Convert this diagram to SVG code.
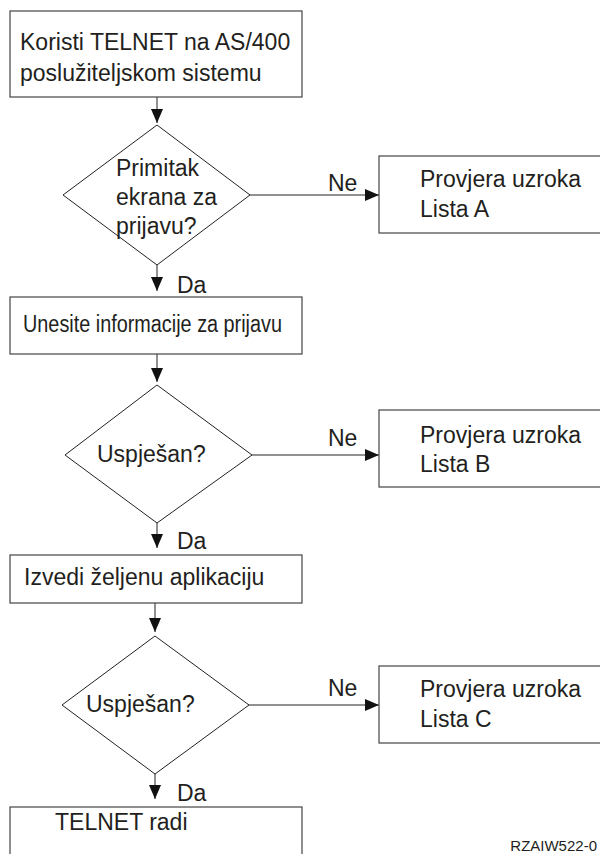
<svg xmlns="http://www.w3.org/2000/svg" width="600" height="854" viewBox="0 0 600 854">
<defs>
<style>
.box{fill:#fff;stroke:#444;stroke-width:1.2}
.dia{fill:#fff;stroke:#222;stroke-width:1}
.ln{fill:none;stroke:#222;stroke-width:1}
text{font-family:"Liberation Sans",Arial,sans-serif;font-size:23px;fill:#231f20}
.id{font-size:15px}
</style>
<marker id="ah" markerUnits="userSpaceOnUse" markerWidth="14" markerHeight="12" refX="14" refY="6" orient="auto">
<path d="M0,0 L14,6 L0,12 Z" fill="#111"/>
</marker>
</defs>
<g id="connectors">
<line class="ln" x1="157" y1="97" x2="157" y2="123" marker-end="url(#ah)"/>
<line class="ln" x1="250" y1="195" x2="379" y2="195" marker-end="url(#ah)"/>
<text x="328" y="191">Ne</text>
<line class="ln" x1="157" y1="265" x2="157" y2="291" marker-end="url(#ah)"/>
<text x="177" y="293">Da</text>
<line class="ln" x1="157" y1="354" x2="157" y2="382" marker-end="url(#ah)"/>
<line class="ln" x1="252" y1="455" x2="379" y2="455" marker-end="url(#ah)"/>
<text x="328" y="446">Ne</text>
<line class="ln" x1="157" y1="523" x2="157" y2="548" marker-end="url(#ah)"/>
<text x="177" y="549">Da</text>
<line class="ln" x1="155" y1="603" x2="155" y2="632" marker-end="url(#ah)"/>
<line class="ln" x1="249" y1="705" x2="379" y2="705" marker-end="url(#ah)"/>
<text x="328" y="696">Ne</text>
<line class="ln" x1="155" y1="774" x2="155" y2="799" marker-end="url(#ah)"/>
<text x="177" y="801">Da</text>
</g>
<g id="n1">
<rect class="box" x="10" y="11" width="292" height="86"/>
<text x="20" y="50">Koristi TELNET na AS/400</text>
<text x="20" y="81">poslužiteljskom sistemu</text>
</g>
<g id="d1">
<polygon class="dia" points="157,125 250,195 157,265 63,195"/>
<text x="116" y="176">Primitak</text>
<text x="116" y="205">ekrana za</text>
<text x="116" y="234">prijavu?</text>
</g>
<g id="nA">
<rect class="box" x="379" y="156" width="230" height="77"/>
<text x="420" y="187">Provjera uzroka</text>
<text x="420" y="217">Lista A</text>
</g>
<g id="n2">
<rect class="box" x="10" y="297" width="292" height="57"/>
<text x="23" y="332" textLength="259" lengthAdjust="spacingAndGlyphs">Unesite informacije za prijavu</text>
</g>
<g id="d2">
<polygon class="dia" points="157,385 252,455 157,523 65,455"/>
<text x="97" y="462">Uspješan?</text>
</g>
<g id="nB">
<rect class="box" x="379" y="410" width="230" height="77"/>
<text x="420" y="443">Provjera uzroka</text>
<text x="420" y="472">Lista B</text>
</g>
<g id="n3">
<rect class="box" x="10" y="555" width="292" height="48"/>
<text x="24" y="585">Izvedi željenu aplikaciju</text>
</g>
<g id="d3">
<polygon class="dia" points="155,636 249,705 155,774 62,705"/>
<text x="86" y="712">Uspješan?</text>
</g>
<g id="nC">
<rect class="box" x="379" y="666" width="230" height="77"/>
<text x="420" y="697">Provjera uzroka</text>
<text x="420" y="727">Lista C</text>
</g>
<g id="n4">
<rect class="box" x="10" y="807" width="292" height="60"/>
<text x="55" y="830">TELNET radi</text>
</g>
<text class="id" x="597" y="851" text-anchor="end">RZAIW522-0</text>
</svg>
